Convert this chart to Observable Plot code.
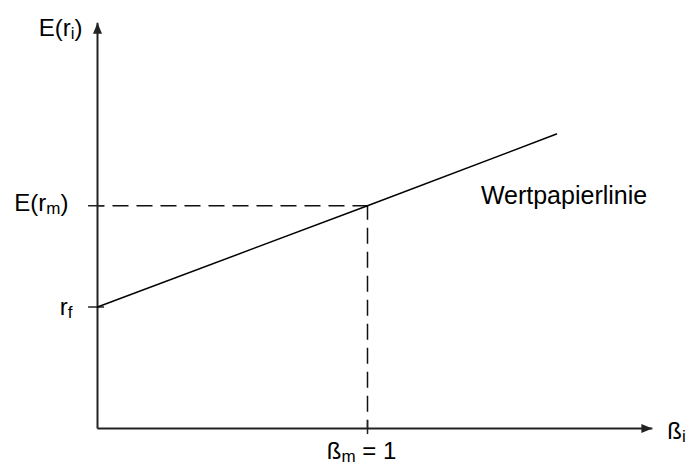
<!DOCTYPE html>
<html>
<head>
<meta charset="utf-8">
<script src="https://cdn.jsdelivr.net/npm/d3@7"></script>
<script src="https://cdn.jsdelivr.net/npm/@observablehq/plot@0.6"></script>
<style>
  html, body { margin: 0; padding: 0; background: #fff; }
</style>
</head>
<body>
<div id="chart"></div>
<script>
// ---- data ----
const smlBeta = [0, 1, 1.70];          // Wertpapierlinie (security market line) points
const smlReturn = [3.0, 5.5, 7.27];
const riskFree = 3.0;                  // r_f
const marketBeta = 1;                  // ß_m = 1
const marketReturn = 5.5;              // E(r_m)
const xAxisEnd = 2.055;                // end of ß_i axis (arrow tip)
const yAxisEnd = 10.02;                // end of E(r_i) axis (arrow tip)
const yTickLabels = ["E(r_m)", "r_f"];
const yAxisTitle = "E(r_i)";
const xAxisTitle = "ß_i";
const xTickLabel = "ß_m = 1";
const lineLabel = "Wertpapierlinie";
const lineLabelPos = [1.42, 5.75];

// ---- styles ----
const axisColor = "#222";
const tickOutX = -0.033, tickInX = 0.026;   // y-axis tick extent (beta units)
const tickUpY = 0.2, tickDownY = -0.15;     // x-axis tick extent (return units)

const sml = smlBeta.map((b, i) => ({beta: b, ret: smlReturn[i]}));

const arrowRight = {draw(ctx) { ctx.moveTo(0, 0); ctx.lineTo(-11, -4.5); ctx.lineTo(-11, 4.5); ctx.closePath(); }};
const arrowUp = {draw(ctx) { ctx.moveTo(0, 0); ctx.lineTo(-4.5, 11); ctx.lineTo(4.5, 11); ctx.closePath(); }};

const svg = Plot.plot({
  width: 690,
  height: 467,
  margin: 0,
  x: {domain: [0, 2.2], range: [97, 97 + 2.2 * 270], axis: null},
  y: {domain: [0, 10.5], range: [428, 428 - 10.5 * 40.5], axis: null},
  style: {fontFamily: "'Liberation Sans', Arial, sans-serif", fontSize: "24px", background: "white", color: "black"},
  marks: [
    // dashed guides
    Plot.link([{x1: 0, y1: marketReturn, x2: marketBeta, y2: marketReturn}],
      {x1: "x1", y1: "y1", x2: "x2", y2: "y2", stroke: "#111", strokeWidth: 1.5, strokeDasharray: "16,8", strokeDashoffset: 9}),
    Plot.link([{x1: marketBeta, y1: marketReturn, x2: marketBeta, y2: 0}],
      {x1: "x1", y1: "y1", x2: "x2", y2: "y2", stroke: "#111", strokeWidth: 1.5, strokeDasharray: "16,8", strokeDashoffset: 2}),
    // axes
    Plot.link([{x1: 0, y1: 0, x2: xAxisEnd, y2: 0}], {x1: "x1", y1: "y1", x2: "x2", y2: "y2", stroke: axisColor, strokeWidth: 2}),
    Plot.link([{x1: 0, y1: 0, x2: 0, y2: yAxisEnd}], {x1: "x1", y1: "y1", x2: "x2", y2: "y2", stroke: axisColor, strokeWidth: 2}),
    Plot.dot([{x: xAxisEnd, y: 0}], {x: "x", y: "y", symbol: arrowRight, fill: axisColor, stroke: null}),
    Plot.dot([{x: 0, y: yAxisEnd}], {x: "x", y: "y", symbol: arrowUp, fill: axisColor, stroke: null}),
    // ticks
    Plot.ruleY([riskFree, marketReturn], {x1: tickOutX, x2: tickInX, stroke: axisColor, strokeWidth: 1.5}),
    Plot.ruleX([marketBeta], {y1: tickDownY, y2: tickUpY, stroke: axisColor, strokeWidth: 1.5}),
    // security market line
    Plot.line(sml, {x: "beta", y: "ret", stroke: "black", strokeWidth: 1.5}),
    // labels
    Plot.text([yAxisTitle], {x: 0, y: yAxisEnd, text: d => d, textAnchor: "end", dx: -15, dy: 5.3}),
    Plot.text([yTickLabels[0]], {x: 0, y: marketReturn, text: d => d, textAnchor: "end", dx: -29, dy: -2}),
    Plot.text([yTickLabels[1]], {x: 0, y: riskFree, text: d => d, textAnchor: "end", dx: -25, dy: 0}),
    Plot.text([xAxisTitle], {x: xAxisEnd, y: 0, text: d => d, textAnchor: "start", dx: 15, dy: 3.3}),
    Plot.text([xTickLabel], {x: marketBeta, y: 0, text: d => d, textAnchor: "middle", dx: -6, dy: 23.3}),
    Plot.text([lineLabel], {x: lineLabelPos[0], y: lineLabelPos[1], text: d => d, textAnchor: "start", fontSize: 25})
  ]
});

// render "_x" as a subscript
const NS = "http://www.w3.org/2000/svg";
svg.querySelectorAll("text").forEach(t => {
  const s = t.textContent;
  if (!s.includes("_")) return;
  while (t.firstChild) t.removeChild(t.firstChild);
  const parts = s.split(/_(.)/);
  let lowered = false;
  parts.forEach((p, i) => {
    if (p === "") return;
    const ts = document.createElementNS(NS, "tspan");
    ts.textContent = p;
    if (i % 2 === 1) {
      ts.setAttribute("font-size", "17");
      ts.setAttribute("dy", "3");
      lowered = true;
    } else if (lowered) {
      ts.setAttribute("dy", "-3");
      lowered = false;
    }
    t.appendChild(ts);
  });
});

document.getElementById("chart").appendChild(svg);
</script>
</body>
</html>
